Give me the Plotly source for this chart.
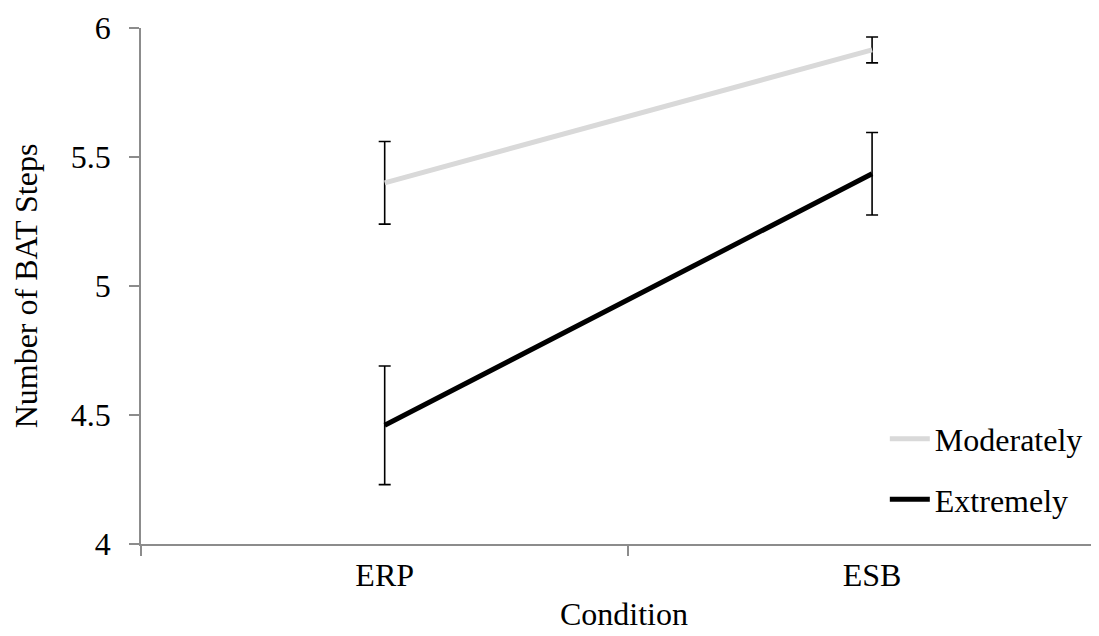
import plotly.graph_objects as go

categories = ["ERP", "ESB"]
moderately = [5.40, 5.915]
moderately_err = [0.16, 0.05]
extremely = [4.46, 5.435]
extremely_err = [0.23, 0.16]
y_ticks = [4, 4.5, 5, 5.5, 6]
y_tick_labels = ["4", "4.5", "5", "5.5", "6"]

FONT = "Liberation Serif"
FS = 32
AXIS_COLOR = "#8c8c8c"

fig = go.Figure()
fig.add_trace(go.Scatter(
    x=categories, y=moderately, mode="lines", name="Moderately",
    line=dict(color="#d9d9d9", width=5),
    error_y=dict(type="data", array=moderately_err, visible=True,
                 color="black", thickness=1.6, width=6),
    legendgroup="m",
))
fig.add_trace(go.Scatter(
    x=categories, y=extremely, mode="lines", name="Extremely",
    line=dict(color="black", width=5),
    error_y=dict(type="data", array=extremely_err, visible=True,
                 color="black", thickness=1.6, width=6),
    legendgroup="e",
))

fig.update_layout(
    width=1099, height=636,
    margin=dict(l=133, r=0, t=20, b=100),
    paper_bgcolor="white", plot_bgcolor="white",
    font=dict(family=FONT, size=FS, color="black"),
    showlegend=True,
    legend=dict(
        x=0.77, y=0.257, xanchor="left", yanchor="top",
        bgcolor="rgba(0,0,0,0)", font=dict(family=FONT, size=FS, color="black"),
        traceorder="grouped", tracegroupgap=16, itemwidth=40,
    ),
    xaxis=dict(
        type="category", range=[-0.5, 1.482],
        showline=True, linecolor=AXIS_COLOR, linewidth=1.5,
        ticks="outside", tickson="boundaries", ticklen=10, tickcolor=AXIS_COLOR,
        tickwidth=1.5, ticklabelstandoff=2,
        showgrid=False, zeroline=False,
        title=dict(text="Condition", font=dict(family=FONT, size=FS), standoff=10),
        tickfont=dict(family=FONT, size=FS),
    ),
    yaxis=dict(
        range=[4, 6], tickvals=y_ticks, ticktext=y_tick_labels,
        showline=True, linecolor=AXIS_COLOR, linewidth=1.5,
        ticks="outside", ticklen=10, tickcolor=AXIS_COLOR, tickwidth=1.5,
        ticklabelstandoff=12,
        showgrid=False, zeroline=False,
        title=dict(text="Number of BAT Steps", font=dict(family=FONT, size=FS), standoff=30),
        tickfont=dict(family=FONT, size=FS),
    ),
)

fig.write_html("out.html")
